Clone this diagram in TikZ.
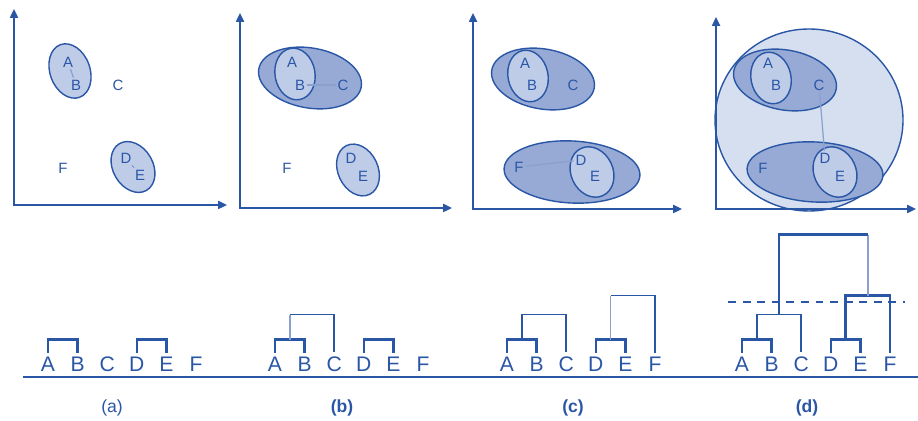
\documentclass[tikz,border=0pt]{standalone}
\usepackage{fontspec}
\setmainfont{Liberation Sans}
\usetikzlibrary{arrows.meta}

\definecolor{dblue}{RGB}{42,86,166}
\definecolor{lblue}{RGB}{190,204,232}
\definecolor{mblue}{RGB}{150,170,213}
\definecolor{pblue}{RGB}{214,223,240}
\definecolor{gblue}{RGB}{138,160,206}

\begin{document}
\begin{tikzpicture}[
        x=0.02cm, y=-0.02cm,
        axis/.style={
            draw=dblue, line width=1.1pt, line join=miter,
            {Triangle[length=5pt,width=4.5pt]}-{Triangle[length=5pt,width=4.5pt]}
        },
        lone/.style={draw=dblue, line width=0.8pt, fill=lblue},
        group/.style={draw=dblue, line width=0.8pt, fill=mblue},
        world/.style={draw=dblue, line width=0.8pt, fill=pblue},
        pt/.style={font=\fontsize{8.5}{10}\selectfont, text=dblue, inner sep=1pt},
        tie/.style={draw=gblue, line width=0.7pt},
        leaf/.style={font=\fontsize{12}{14}\selectfont, text=dblue, anchor=base, inner sep=2.6pt},
        pair/.style={draw=dblue, line width=1.4pt},
        link/.style={draw=dblue, line width=1pt},
        faint/.style={draw=gblue, line width=1pt},
        cut/.style={draw=dblue, line width=1pt, dash pattern=on 4.5pt off 3.8pt},
        paneltag/.style={font=\fontsize{10}{12}\selectfont, text=dblue}
    ]
    \useasboundingbox (0,0) rectangle (918,421);

    % (a) every point alone, A-B and D-E closest
    \filldraw[lone, rotate around={20:(70,71)}] (70,71) ellipse [x radius=20, y radius=28];
    \filldraw[lone, rotate around={30:(133,167)}] (133,167) ellipse [x radius=20, y radius=27];
    \draw[axis] (14,9) |- (227,205);
    \foreach \l/\x/\y in {A/68/62, B/76/85, C/118/85, D/126/158, E/140/175, F/63/168}
        \node[pt] (pa-\l) at (\x,\y) {\l};
    \draw[tie] (pa-A) -- (pa-B);
    \draw[tie] (pa-D) -- (pa-E);

    % (b) C joins A-B
    \filldraw[group, rotate around={-10:(310,78)}] (310,78) ellipse [x radius=52, y radius=30];
    \filldraw[lone, rotate around={10:(295,74)}] (295,74) ellipse [x radius=20, y radius=26];
    \filldraw[lone, rotate around={25:(358,170)}] (358,170) ellipse [x radius=20, y radius=27];
    \draw[axis] (240,13) |- (452,208);
    \foreach \l/\x/\y in {A/292/62, B/300/85, C/343/85, D/351/158, E/363/176, F/287/168}
        \node[pt] (pb-\l) at (\x,\y) {\l};
    \draw[tie] (pb-B) -- (pb-C);

    % (c) F joins D-E
    \filldraw[group, rotate around={-10:(543,79)}] (543,79) ellipse [x radius=52, y radius=30];
    \filldraw[lone, rotate around={12:(528,76)}] (528,76) ellipse [x radius=20, y radius=26];
    \filldraw[group, rotate around={-3:(572,172)}] (572,172) ellipse [x radius=68, y radius=31];
    \filldraw[lone, rotate around={25:(592,172)}] (592,172) ellipse [x radius=21, y radius=26];
    \draw[axis] (473,13) |- (682,209);
    \foreach \l/\x/\y in {A/525/63, B/532/85, C/573/85, D/581/160, E/595/176, F/519/167}
        \node[pt] (pc-\l) at (\x,\y) {\l};
    \draw[tie] (pc-F) -- (pc-D);

    % (d) one cluster
    \filldraw[world] (809,120) ellipse [x radius=94, y radius=91];
    \filldraw[group, rotate around={-10:(785,80)}] (785,80) ellipse [x radius=52, y radius=30];
    \filldraw[lone, rotate around={12:(771,78)}] (771,78) ellipse [x radius=20, y radius=26];
    \filldraw[group, rotate around={-3:(815,172)}] (815,172) ellipse [x radius=68, y radius=30];
    \filldraw[lone, rotate around={25:(835,172)}] (835,172) ellipse [x radius=21, y radius=26];
    \draw[axis] (716,17) |- (916,209);
    \foreach \l/\x/\y in {A/768/63, B/776/85, C/819/85, D/825/158, E/840/176, F/763/168}
        \node[pt] (pd-\l) at (\x,\y) {\l};
    \draw[tie] (pd-C) -- (pd-D);

    % dendrograms
    \draw[dblue, line width=1.1pt] (23,377) -- (918,377);
    \foreach \p/\s in {a/48, b/275, c/507, d/742}
        \foreach \l [count=\i from 0] in {A,B,C,D,E,F}
            \node[leaf] (t\p-\l) at (\s+29.6*\i,372) {\l};

    \draw[pair] (ta-A.north) -- ++(0,-13) -| (ta-B.north);
    \draw[pair] (ta-D.north) -- ++(0,-13) -| (ta-E.north);

    \draw[pair] (tb-A.north) -- ++(0,-13) -| node[coordinate, pos=0.25] (tb-AB) {} (tb-B.north);
    \draw[pair] (tb-D.north) -- ++(0,-13) -| (tb-E.north);
    \draw[faint] (tb-AB) -- ++(0,-25) coordinate (tb-ABC);
    \draw[link] (tb-ABC) -| (tb-C.north);

    \draw[pair] (tc-A.north) -- ++(0,-13) -| node[coordinate, pos=0.25] (tc-AB) {} (tc-B.north);
    \draw[pair] (tc-D.north) -- ++(0,-13) -| node[coordinate, pos=0.25] (tc-DE) {} (tc-E.north);
    \draw[link] (tc-AB) -- ++(0,-25) -| (tc-C.north);
    \draw[faint] (tc-DE) -- ++(0,-44) coordinate (tc-DEF);
    \draw[link] (tc-DEF) -| (tc-F.north);

    \draw[pair] (td-A.north) -- ++(0,-13) -| node[coordinate, pos=0.25] (td-AB) {} (td-B.north);
    \draw[pair] (td-D.north) -- ++(0,-13) -| node[coordinate, pos=0.25] (td-DE) {} (td-E.north);
    \draw[link] (td-AB) -- ++(0,-25) -| node[coordinate, pos=0.25] (td-ABC) {} (td-C.north);
    \draw[pair] (td-DE) -- ++(0,-44) -| node[coordinate, pos=0.25] (td-DEF) {} (td-F.north);
    \draw[faint] (td-DEF) -- ++(0,-61) coordinate (td-root);
    \draw[pair] (td-root) -| (td-ABC);
    \draw[cut] (728,302) -- (905,302);

    \node[paneltag] (la) at (112,408) {(a)};
    \node[paneltag, font=\fontsize{10}{12}\selectfont\bfseries] (lb) at (342,408) {(b)};
    \node[paneltag, font=\fontsize{10}{12}\selectfont\bfseries] (lc) at (573,408) {(c)};
    \node[paneltag, font=\fontsize{10}{12}\selectfont\bfseries] (ld) at (807,408) {(d)};

\end{tikzpicture}
\end{document}
